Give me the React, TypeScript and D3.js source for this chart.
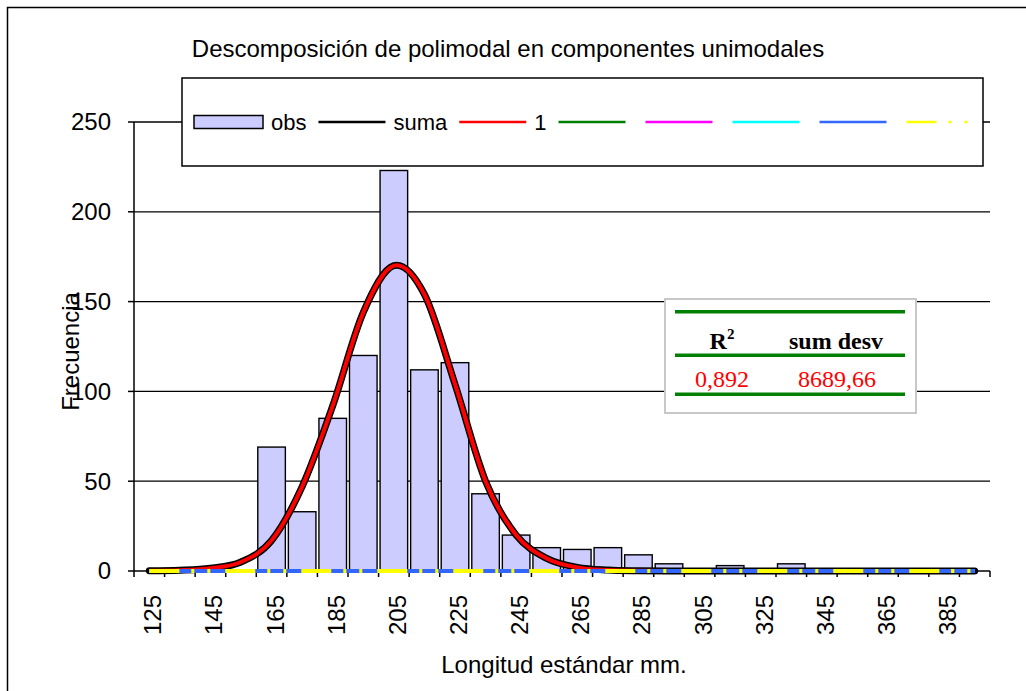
import React, { useEffect, useRef } from "react";
import * as d3 from "d3";

// longitud estándar (mm), marcas de clase
const categories = [
  125, 135, 145, 155, 165, 175, 185, 195, 205, 215, 225, 235, 245, 255,
  265, 275, 285, 295, 305, 315, 325, 335, 345, 355, 365, 375, 385, 395,
];
const tickLabels = [125, 145, 165, 185, 205, 225, 245, 265, 285, 305, 325, 345, 365, 385];

// frecuencias observadas
const obs = [0, 0, 0, 0, 69, 33, 85, 120, 223, 112, 116, 43, 20, 13, 12, 13, 9, 4, 0, 3, 0, 4, 0, 0, 0, 0, 0, 0];

// componentes ajustadas
const comp1 = [0.1, 0.4, 1.5, 5, 17, 47, 92, 144, 170, 154, 104, 50, 20, 7, 2, 0.5, 0.1, 0, 0, 0, 0, 0, 0, 0, 0, 0, 0, 0];
const comp2 = [0, 0, 0, 0, 0, 0, 0, 0, 0, 0, 0, 0, 0, 0, 0, 0, 0, 0, 0, 0, 0, 0, 0, 0, 0, 0, 0, 0];
const comp3 = [0, 0, 0, 0, 0, 0, 0, 0, 0, 0, 0, 0, 0, 0, 0, 0, 0, 0, 0, 0, 0, 0, 0, 0, 0, 0, 0, 0];
const comp4 = [0, 0, 0, 0, 0, 0, 0, 0, 0, 0, 0, 0, 0, 0, 0, 0, 0, 0, 0, 0, 0, 0, 0, 0, 0, 0, 0, 0];
const comp5 = [0, 0, 0, 0, 0, 0, 0, 0, 0, 0, 0, 0, 0, 0, 0, 0, 0, 0, 0, 0, 0, 0, 0, 0, 0, 0, 0, 0];
const comp6 = [0, 0, 0, 0, 0, 0, 0, 0, 0, 0, 0, 0, 0, 0, 0, 0, 0, 0, 0, 0, 0, 0, 0, 0, 0, 0, 0, 0];

const yTicks = [0, 50, 100, 150, 200, 250];

const r2Text = "0,892";
const sumDesvText = "8689,66";

const SANS = "'Liberation Sans', Arial, sans-serif";
const SERIF = "'Liberation Serif', 'Times New Roman', serif";

const comps = [
  { values: comp1, color: "#FF0000", dash: null, label: "1" },
  { values: comp2, color: "#008000", dash: null, label: "" },
  { values: comp3, color: "#FF00FF", dash: null, label: "" },
  { values: comp4, color: "#00FFFF", dash: null, label: "" },
  { values: comp5, color: "#3366FF", dash: null, label: "" },
  { values: comp6, color: "#FFFF00", dash: "30 12 3 13 3 15", label: "" },
];

const textWidth = (s: string, font: string) => {
  const ctx = document.createElement("canvas").getContext("2d");
  if (!ctx) return s.length * 12;
  ctx.font = font;
  return ctx.measureText(s).width;
};

export default function App() {
  const ref = useRef<SVGSVGElement>(null);

  useEffect(() => {
    const svg = d3.select(ref.current);
    svg.selectAll("*").remove();

    const width = 1026;
    const height = 691;
    const left = 134, right = 990, top = 122, bottom = 571;

    svg.append("rect").attr("width", width).attr("height", height).attr("fill", "#fff");
    // borde del área del gráfico
    svg.append("rect")
      .attr("x", 7.5).attr("y", 7.5).attr("width", 1100).attr("height", 800)
      .attr("fill", "none").attr("stroke", "#000").attr("stroke-width", 1.5);

    const x = d3.scaleBand<number>().domain(categories).range([left, right]);
    const y = d3.scaleLinear().domain([0, 250]).range([bottom, top]);
    const bw = x.bandwidth();

    // líneas de división
    svg.append("g")
      .selectAll("line")
      .data(yTicks.filter(t => t > 0))
      .join("line")
      .attr("x1", left).attr("x2", right)
      .attr("y1", d => y(d)).attr("y2", d => y(d))
      .attr("stroke", "#000").attr("stroke-width", 1.3);

    // barras obs
    svg.append("g")
      .selectAll("rect")
      .data(categories.map((c, i) => ({ c, v: obs[i] })).filter(d => d.v > 0))
      .join("rect")
      .attr("x", d => (x(d.c) as number) + 1.5)
      .attr("width", bw - 3)
      .attr("y", d => y(d.v))
      .attr("height", d => y(0) - y(d.v))
      .attr("fill", "#CCCCFF").attr("stroke", "#000").attr("stroke-width", 1.4);

    // ejes
    const ax = svg.append("g").attr("stroke", "#000").attr("stroke-width", 1.5);
    ax.append("line").attr("x1", left).attr("x2", left).attr("y1", top).attr("y2", bottom);
    ax.append("line").attr("x1", left).attr("x2", right).attr("y1", bottom).attr("y2", bottom);
    ax.selectAll(".yt").data(yTicks).join("line").attr("class", "yt")
      .attr("x1", left - 6).attr("x2", left).attr("y1", d => y(d)).attr("y2", d => y(d));
    ax.selectAll(".xt").data([...categories.map(c => x(c) as number), right]).join("line").attr("class", "xt")
      .attr("x1", d => d).attr("x2", d => d).attr("y1", bottom).attr("y2", bottom + 6);

    svg.append("g")
      .selectAll("text")
      .data(yTicks)
      .join("text")
      .attr("x", 111).attr("y", d => y(d)).attr("dy", "0.35em")
      .attr("text-anchor", "end")
      .attr("font-family", SANS).attr("font-size", 24)
      .text(d => d);

    svg.append("g")
      .selectAll("text")
      .data(tickLabels)
      .join("text")
      .attr("transform", d => `translate(${(x(d) as number) + bw / 2 + 12},595) rotate(-90)`)
      .attr("text-anchor", "end")
      .attr("font-family", SANS).attr("font-size", 24)
      .text(d => d);

    // curvas (suavizadas como en Excel)
    const suma = categories.map((_, i) => comps.reduce((s, c) => s + c.values[i], 0));
    const line = d3.line<number>()
      .x((_, i) => (x(categories[i]) as number) + bw / 2)
      .y(v => y(v))
      .curve(d3.curveCardinal.tension(0));

    svg.append("path").attr("d", line(suma))
      .attr("fill", "none").attr("stroke", "#000").attr("stroke-width", 7)
      .attr("stroke-linejoin", "round").attr("stroke-linecap", "round");
    comps.forEach(c => {
      svg.append("path").attr("d", line(c.values))
        .attr("fill", "none").attr("stroke", c.color).attr("stroke-width", 4)
        .attr("stroke-dasharray", c.dash)
        .attr("stroke-linejoin", "round");
    });

    // títulos
    svg.append("text").attr("x", 508).attr("y", 57).attr("text-anchor", "middle")
      .attr("font-family", SANS).attr("font-size", 24)
      .text("Descomposición de polimodal en componentes unimodales");
    svg.append("text").attr("x", 564).attr("y", 673).attr("text-anchor", "middle")
      .attr("font-family", SANS).attr("font-size", 24)
      .text("Longitud estándar mm.");
    svg.append("text").attr("transform", "translate(79,351.5) rotate(-90)").attr("text-anchor", "middle")
      .attr("font-family", SANS).attr("font-size", 24)
      .text("Frecuencia");

    // leyenda
    const lg = svg.append("g");
    lg.append("rect").attr("x", 182).attr("y", 78).attr("width", 801).attr("height", 88)
      .attr("fill", "#fff").attr("stroke", "#000").attr("stroke-width", 1.5);
    const ly = 122;
    const lfont = `22px ${SANS}`;
    let lx = 194;
    lg.append("rect").attr("x", lx).attr("y", ly - 6.5).attr("width", 69).attr("height", 13)
      .attr("fill", "#CCCCFF").attr("stroke", "#000").attr("stroke-width", 1.5);
    lx += 69 + 8;
    lg.append("text").attr("x", lx).attr("y", ly + 8).attr("font-family", SANS).attr("font-size", 22).text("obs");
    lx += textWidth("obs", lfont) + 12;
    const legendLines = [{ color: "#000", dash: null, label: "suma" }, ...comps];
    legendLines.forEach(it => {
      lg.append("line").attr("x1", lx).attr("x2", lx + 67).attr("y1", ly).attr("y2", ly)
        .attr("stroke", it.color).attr("stroke-width", 2.5).attr("stroke-dasharray", it.dash);
      lx += 67 + 8;
      if (it.label) {
        lg.append("text").attr("x", lx).attr("y", ly + 8).attr("font-family", SANS).attr("font-size", 22).text(it.label);
        lx += textWidth(it.label, lfont);
      }
      lx += 12;
    });

    // tabla R2
    const tb = svg.append("g");
    tb.append("rect").attr("x", 665).attr("y", 299).attr("width", 251).attr("height", 114)
      .attr("fill", "#fff").attr("stroke", "#C8C8C8").attr("stroke-width", 2);
    [311.7, 355.3, 394.3].forEach(yy => {
      tb.append("line").attr("x1", 675).attr("x2", 905).attr("y1", yy).attr("y2", yy)
        .attr("stroke", "#008000").attr("stroke-width", 3.5);
    });
    const r2 = tb.append("text").attr("x", 722).attr("y", 349).attr("text-anchor", "middle")
      .attr("font-family", SERIF).attr("font-size", 24).attr("font-weight", "bold");
    r2.append("tspan").text("R");
    r2.append("tspan").attr("font-size", 15).attr("dy", -10).text("2");
    tb.append("text").attr("x", 836).attr("y", 349).attr("text-anchor", "middle")
      .attr("font-family", SERIF).attr("font-size", 24).attr("font-weight", "bold").text("sum desv");
    tb.append("text").attr("x", 722).attr("y", 386.5).attr("text-anchor", "middle")
      .attr("font-family", SERIF).attr("font-size", 24).attr("fill", "#FF0000").text(r2Text);
    tb.append("text").attr("x", 837).attr("y", 386.5).attr("text-anchor", "middle")
      .attr("font-family", SERIF).attr("font-size", 24).attr("fill", "#FF0000").text(sumDesvText);
  }, []);

  return (
    <>
      <style>{"body{margin:0}"}</style>
      <svg ref={ref} width={1026} height={691} style={{ display: "block" }} />
    </>
  );
}
